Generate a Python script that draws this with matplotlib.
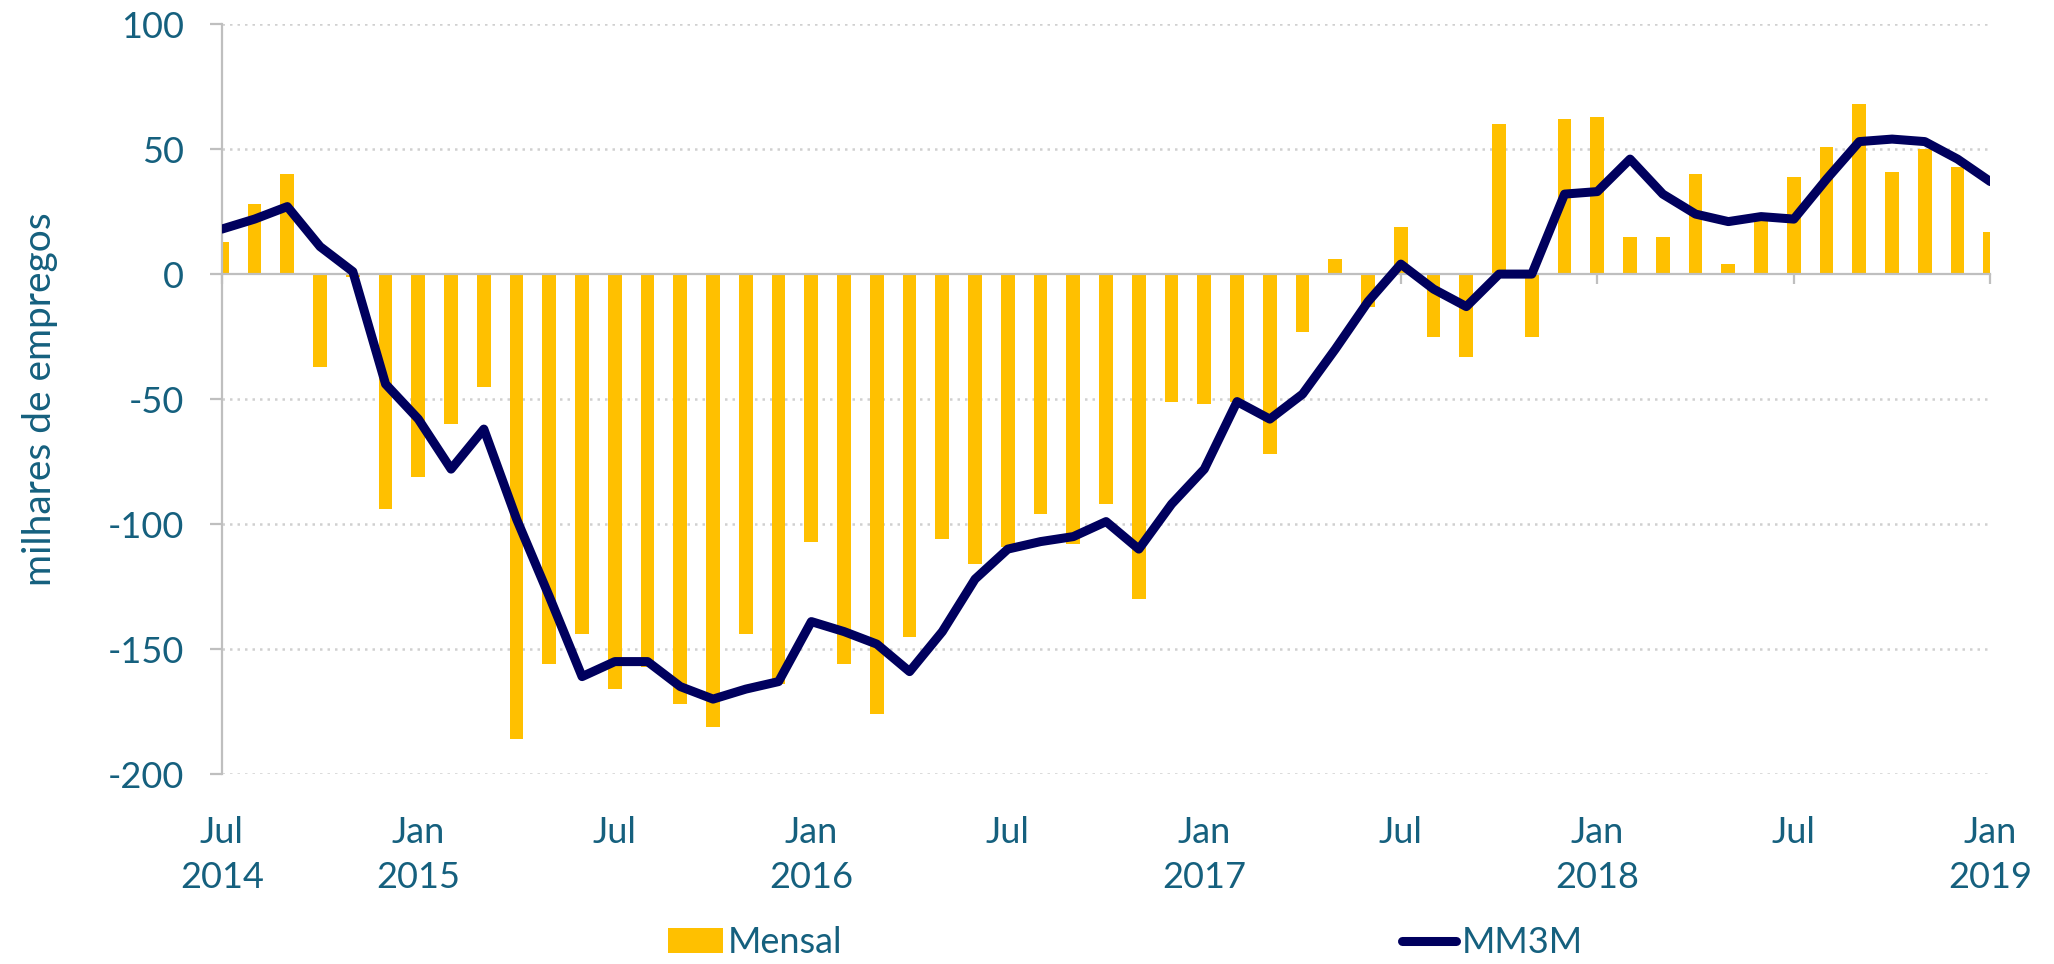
import matplotlib
matplotlib.use('Agg')

import matplotlib.pyplot as plt

plt.rcParams['font.family'] = ['Lato', 'DejaVu Sans']

# monthly job creation, Jul 2014 .. Jan 2019 (thousands)
months = list(range(55))
mensal = [13, 28, 40, -37, -1, -94, -81, -60, -45, -186,
          -156, -144, -166, -157, -172, -181, -144, -164, -107, -156,
          -176, -145, -106, -116, -109, -96, -108, -92, -130, -51,
          -52, -51, -72, -23, 6, -13, 19, -25, -33, 60,
          -25, 62, 63, 15, 15, 40, 4, 22, 39, 51,
          68, 41, 50, 43, 17]
mm3m = [18, 22, 27, 11, 1, -44, -58, -78, -62, -98,
        -129, -161, -155, -155, -165, -170, -166, -163, -139, -143,
        -148, -159, -143, -122, -110, -107, -105, -99, -110, -92,
        -78, -51, -58, -48, -30, -11, 4, -6, -13, 0,
        0, 32, 33, 46, 32, 24, 21, 23, 22, 38,
        53, 54, 53, 46, 37]

tick_pos = [0, 6, 12, 18, 24, 30, 36, 42, 48, 54]
tick_labels = ["Jul\n2014", "Jan\n2015", "Jul", "Jan\n2016", "Jul",
               "Jan\n2017", "Jul", "Jan\n2018", "Jul", "Jan\n2019"]
y_ticks = [100, 50, 0, -50, -100, -150, -200]

txt_color = '#15607E'
grey = '#BFBFBF'
font_size = 26

fig = plt.figure(figsize=(20.54, 9.64), dpi=100)
ax = fig.add_axes([0.108, 0.197, 0.861, 0.778])

bars = ax.bar(months, mensal, width=0.42, color='#FFC000', label='Mensal', zorder=2)
line, = ax.plot(months, mm3m, color='#00005E', lw=6.5, solid_joinstyle='round',
                solid_capstyle='round', label='MM3M', zorder=3)

ax.set_xlim(0, 54)
ax.set_ylim(-200, 100)
ax.set_yticks(y_ticks)
ax.set_yticklabels([str(v) for v in y_ticks])

for v in y_ticks:
    if v != 0:
        ax.axhline(v, color='#D0D0D0', lw=1.8, ls=(0, (1, 2)), zorder=1)

for s in ['top', 'right']:
    ax.spines[s].set_visible(False)
ax.spines['left'].set_color(grey)
ax.spines['left'].set_linewidth(1.6)
ax.spines['bottom'].set_position(('data', 0))
ax.spines['bottom'].set_color(grey)
ax.spines['bottom'].set_linewidth(1.6)
ax.spines['bottom'].set_zorder(2.5)

ax.tick_params(axis='y', colors=grey, length=9, width=1.6, pad=18,
               labelcolor=txt_color, labelsize=font_size)
ax.set_xticks(tick_pos)
ax.tick_params(axis='x', colors=grey, length=7, width=1.6, labelbottom=False)

sec = ax.secondary_xaxis('bottom')
sec.set_xticks(tick_pos)
sec.set_xticklabels(tick_labels, linespacing=1.45)
sec.tick_params(length=0, pad=30, labelcolor=txt_color, labelsize=font_size)
sec.spines['bottom'].set_visible(False)

ax.set_ylabel("milhares de empregos", color=txt_color, fontsize=28, labelpad=36)

fig.legend([bars, line], ['Mensal', 'MM3M'], loc='center',
           bbox_to_anchor=(0.548, 0.022), ncol=2, frameon=False,
           fontsize=font_size, labelcolor=txt_color, handlelength=1.5,
           handletextpad=0.15, columnspacing=15.5, borderaxespad=0)

plt.savefig('out.png')
